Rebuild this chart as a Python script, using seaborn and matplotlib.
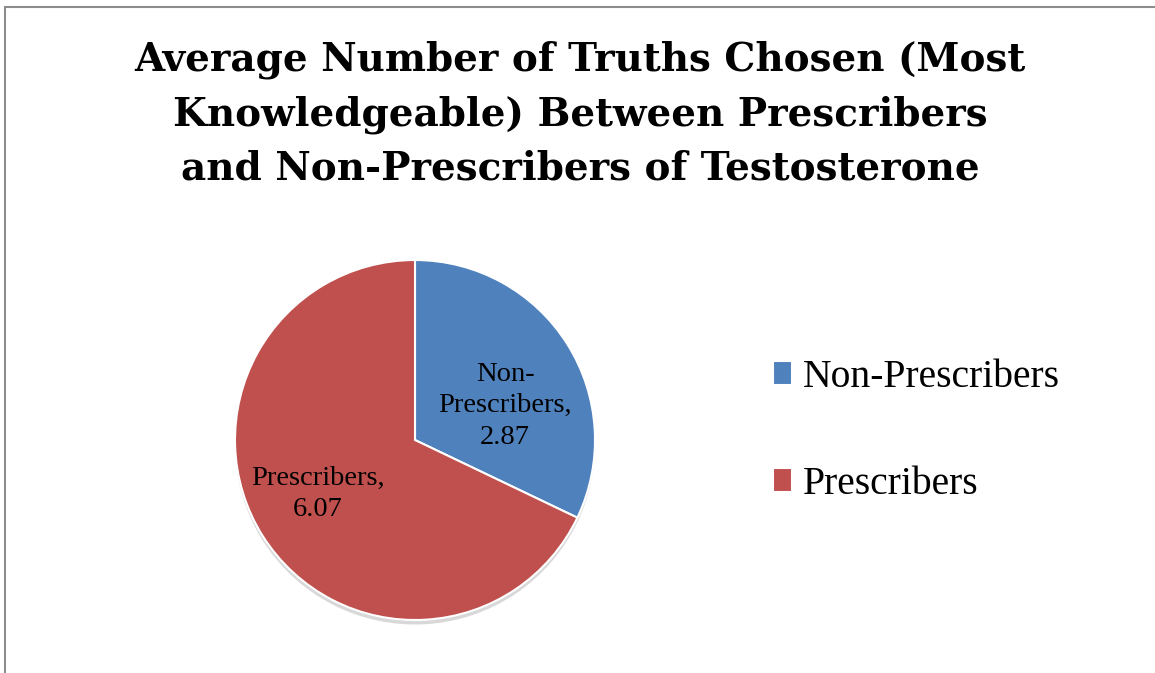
import matplotlib
matplotlib.use("Agg")
import matplotlib.pyplot as plt
import matplotlib.patches as mpatches
import seaborn as sns

# Data
groups = ["Non-Prescribers", "Prescribers"]
avg_truths = [2.87, 6.07]
slice_labels = ["Non-\nPrescribers,\n2.87", "Prescribers,\n6.07"]
title = ("Average Number of Truths Chosen (Most\n"
         "Knowledgeable) Between Prescribers\n"
         "and Non-Prescribers of Testosterone")

sns.set_theme(style="white")
plt.rcParams['font.family'] = ['Liberation Serif', 'DejaVu Serif']
clrs = sns.color_palette(["#4F81BD", "#C0504D"])

W, H = 1155, 673
fig = plt.figure(figsize=(W / 100, H / 100), dpi=100)
fig.patch.set_facecolor('white')

# outer chart border (only left and top edges are in frame)
fig.add_artist(mpatches.Rectangle((5 / W, -0.05), 1.1, 1.05 - 7 / H,
                                  transform=fig.transFigure, fill=False,
                                  edgecolor='#8c8c8c', linewidth=1.5))

fig.text(580 / W, 1 - 114 / H, title, ha='center', va='center',
         fontsize=28, fontweight='bold', linespacing=1.53, color='black',
         family=['DejaVu Serif'])

# pie axes: centre (415, 440), radius 180 px
r = 180
ax = fig.add_axes([(415 - r) / W, 1 - (440 + r) / H, 2 * r / W, 2 * r / H])
wedges, _ = ax.pie(avg_truths, colors=clrs, startangle=90, counterclock=False,
                   wedgeprops={'edgecolor': 'white', 'linewidth': 1.5},
                   shadow={'ox': 0.0, 'oy': -0.018, 'alpha': 0.3,
                           'facecolor': '#7f7f7f', 'edgecolor': 'none'},
                   radius=1)
ax.set_xlim(-1, 1)
ax.set_ylim(-1, 1)
ax.set_aspect('equal')

label_pos = [(0.50, 0.19), (-0.54, -0.30)]
for (lx, ly), txt in zip(label_pos, slice_labels):
    ax.text(lx, ly, txt, ha='center', va='center', fontsize=20.5,
            color='black', linespacing=1.35)

leg = fig.legend(wedges, groups, loc='center left',
                 bbox_to_anchor=(737 / W, 1 - 431 / H),
                 frameon=False, fontsize=28.5, handlelength=0.5, handleheight=0.55,
                 handletextpad=0.27, labelspacing=1.75)
for t in leg.get_texts():
    t.set_color('black')

fig.savefig("out.png", dpi=100)
